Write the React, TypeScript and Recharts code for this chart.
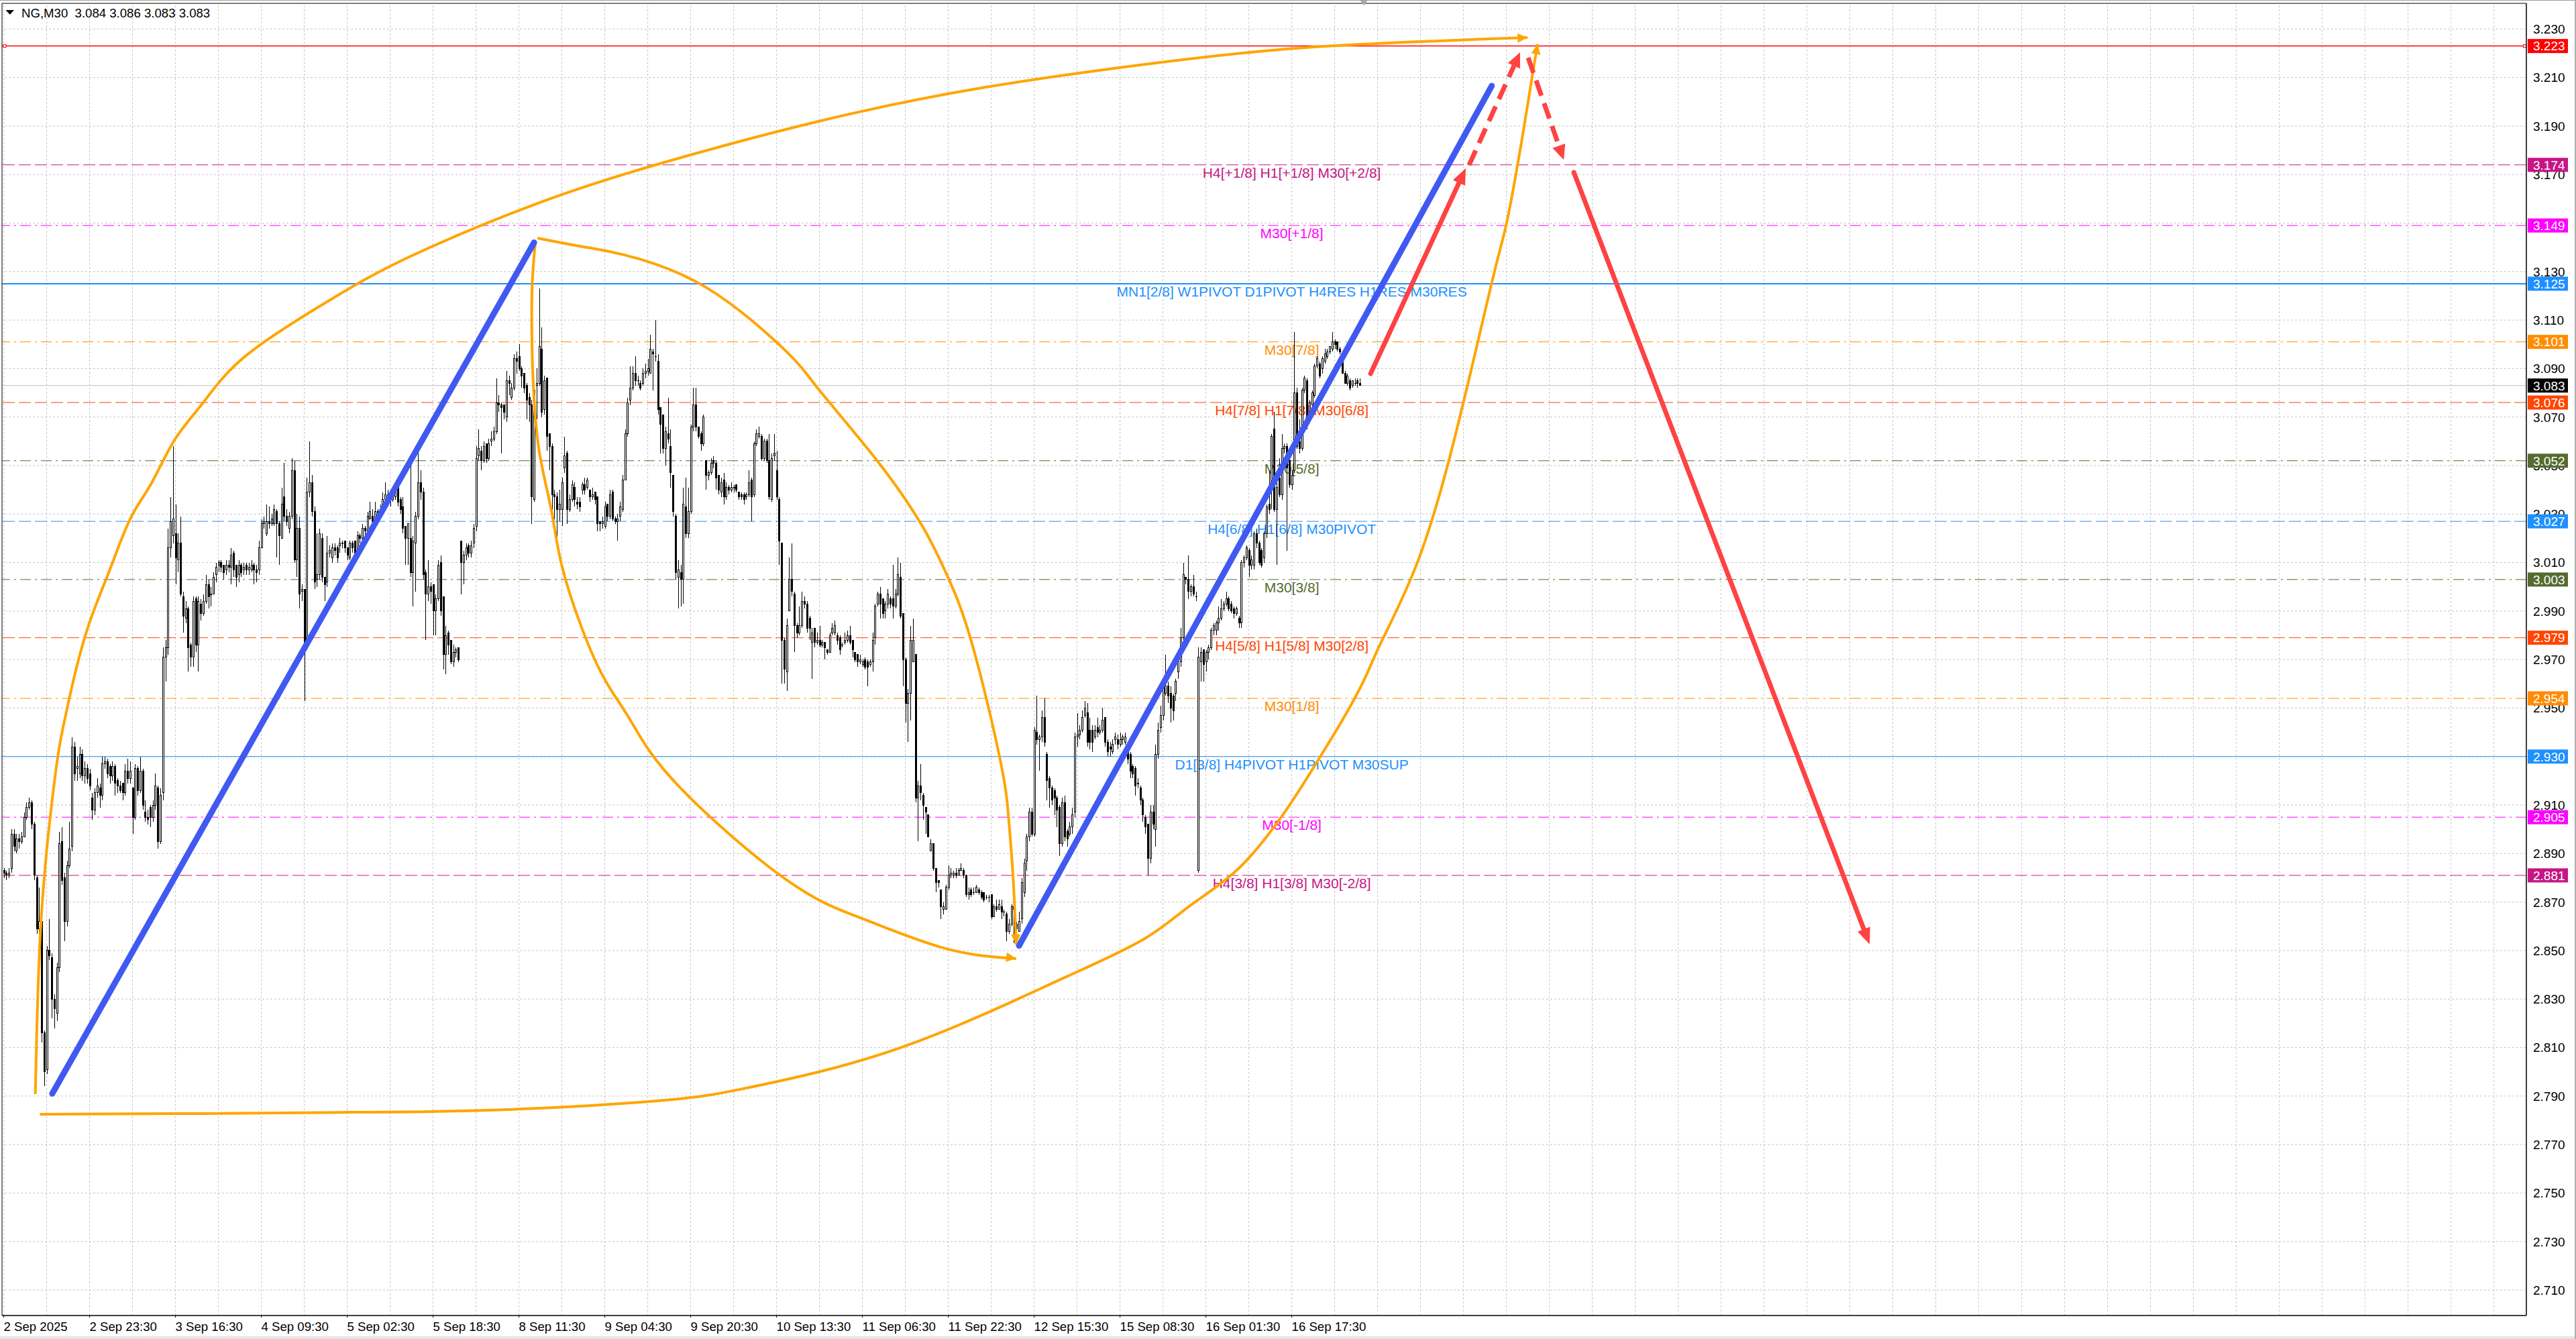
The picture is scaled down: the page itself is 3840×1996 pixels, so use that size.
import React from "react";
import {
  Bar,
  ComposedChart,
  Line,
  ReferenceArea,
  ReferenceDot,
  ReferenceLine,
  XAxis,
  YAxis,
} from "recharts";

type Ohlc = [number, number, number, number];
type Pt = [number, number];

// NG M30 bars as [open, high, low, close] in thousandths, one array per 34-bar span of the time axis
const seg00: Ohlc[] = [
  [2883, 2884, 2880, 2882], [2882, 2883, 2879, 2881], [2881, 2884, 2880, 2882], [2884, 2900, 2882, 2898], [2898, 2900, 2891, 2893],
  [2891, 2898, 2890, 2896], [2896, 2898, 2892, 2895], [2895, 2899, 2894, 2897], [2897, 2907, 2897, 2905], [2905, 2911, 2904, 2909],
  [2909, 2913, 2908, 2911], [2911, 2912, 2900, 2902], [2902, 2903, 2879, 2881], [2880, 2881, 2857, 2859], [2859, 2876, 2856, 2862],
  [2862, 2864, 2812, 2816], [2816, 2817, 2794, 2800], [2801, 2852, 2799, 2850], [2850, 2863, 2846, 2848], [2847, 2849, 2822, 2830],
  [2830, 2832, 2818, 2826], [2824, 2845, 2821, 2843], [2843, 2899, 2841, 2894], [2895, 2901, 2877, 2879], [2880, 2882, 2854, 2862],
  [2862, 2887, 2860, 2885], [2885, 2903, 2884, 2892], [2893, 2938, 2891, 2934], [2934, 2936, 2920, 2923], [2925, 2930, 2920, 2926],
  [2923, 2934, 2921, 2931], [2931, 2933, 2920, 2922], [2922, 2928, 2919, 2925], [2925, 2927, 2919, 2921],
];
const seg01: Ohlc[] = [
  [2923, 2925, 2916, 2918], [2913, 2915, 2904, 2908], [2908, 2917, 2906, 2915], [2915, 2921, 2913, 2918], [2917, 2919, 2909, 2914],
  [2914, 2930, 2912, 2927], [2927, 2930, 2925, 2928], [2928, 2929, 2921, 2923], [2926, 2927, 2919, 2922], [2922, 2928, 2920, 2926],
  [2926, 2927, 2914, 2919], [2920, 2921, 2915, 2918], [2918, 2920, 2915, 2916], [2919, 2919, 2912, 2915], [2915, 2927, 2914, 2924],
  [2924, 2929, 2919, 2921], [2921, 2928, 2919, 2924], [2917, 2917, 2898, 2905], [2905, 2927, 2904, 2925], [2925, 2926, 2914, 2916],
  [2916, 2930, 2915, 2924], [2924, 2925, 2908, 2910], [2907, 2912, 2903, 2905], [2905, 2908, 2902, 2904], [2909, 2910, 2901, 2905],
  [2905, 2912, 2903, 2910], [2910, 2923, 2908, 2918], [2917, 2918, 2892, 2895], [2895, 2917, 2894, 2914], [2915, 2975, 2912, 2971],
  [2971, 2978, 2961, 2975], [2975, 3024, 2972, 3016], [3016, 3037, 3012, 3027], [3021, 3058, 3018, 3028],
];
const seg02: Ohlc[] = [
  [3022, 3034, 3001, 3012], [3011, 3022, 3006, 3018], [3018, 3029, 2996, 2997], [2996, 2998, 2981, 2988], [2987, 2994, 2985, 2991],
  [2991, 2992, 2965, 2975], [2976, 2977, 2967, 2971], [2971, 2996, 2967, 2994], [2995, 2996, 2973, 2976], [2976, 2996, 2965, 2994],
  [2993, 2995, 2986, 2989], [2989, 2997, 2988, 2994], [2994, 3005, 2993, 3001], [3001, 3003, 2991, 2996], [2997, 3000, 2992, 2997],
  [2997, 3006, 2997, 3004], [3005, 3010, 3002, 3008], [3009, 3011, 3006, 3010], [3010, 3011, 3006, 3008], [3009, 3009, 3003, 3006],
  [3007, 3011, 3005, 3009], [3009, 3011, 3006, 3008], [3008, 3016, 3001, 3013], [3014, 3015, 3004, 3007], [3009, 3009, 3000, 3004],
  [3005, 3011, 3002, 3009], [3009, 3010, 3004, 3006], [3007, 3010, 3005, 3008], [3009, 3010, 3005, 3007], [3007, 3010, 3005, 3008],
  [3007, 3011, 3006, 3009], [3009, 3010, 3001, 3007], [3007, 3009, 3002, 3006], [3007, 3019, 3005, 3016],
];
const seg03: Ohlc[] = [
  [3016, 3028, 3016, 3026], [3026, 3029, 3024, 3027], [3022, 3034, 3021, 3027], [3027, 3033, 3024, 3026], [3026, 3030, 3025, 3028],
  [3026, 3034, 3025, 3032], [3031, 3032, 3012, 3026], [3026, 3027, 3009, 3021], [3020, 3041, 3020, 3034], [3037, 3051, 3027, 3029],
  [3029, 3032, 3025, 3027], [3024, 3031, 3022, 3029], [3029, 3053, 3028, 3048], [3048, 3052, 3010, 3011], [3011, 3030, 3004, 3024],
  [3024, 3029, 2991, 2997], [2998, 3001, 2994, 2999], [2999, 2999, 2953, 2977], [2977, 3045, 2974, 3039], [3039, 3060, 3037, 3043],
  [3043, 3046, 3029, 3031], [3031, 3033, 2999, 3002], [3003, 3022, 3000, 3005], [3005, 3024, 3003, 3022], [3020, 3022, 3002, 3004],
  [3004, 3004, 2994, 3001], [3002, 3021, 3000, 3014], [3014, 3017, 3012, 3015], [3012, 3018, 3010, 3016], [3016, 3018, 3013, 3015],
  [3016, 3017, 3010, 3012], [3017, 3020, 3014, 3018], [3018, 3019, 3016, 3018], [3019, 3019, 3014, 3016],
];
const seg04: Ohlc[] = [
  [3016, 3016, 3011, 3013], [3012, 3019, 3011, 3018], [3018, 3019, 3014, 3016], [3019, 3019, 3012, 3014], [3014, 3023, 3013, 3021],
  [3021, 3022, 3018, 3020], [3020, 3026, 3019, 3024], [3024, 3025, 3020, 3023], [3023, 3031, 3022, 3029], [3028, 3035, 3028, 3031],
  [3029, 3032, 3024, 3027], [3027, 3035, 3026, 3031], [3031, 3032, 3027, 3030], [3030, 3034, 3028, 3032], [3030, 3039, 3030, 3036],
  [3036, 3043, 3034, 3038], [3038, 3040, 3034, 3037], [3037, 3039, 3033, 3036], [3036, 3041, 3035, 3038], [3037, 3043, 3036, 3040],
  [3042, 3044, 3033, 3035], [3036, 3037, 3030, 3032], [3033, 3037, 3022, 3024], [3025, 3025, 3009, 3020], [3020, 3026, 3009, 3026],
  [3020, 3051, 3004, 3006], [3006, 3021, 2992, 3019], [3018, 3031, 2998, 3029], [3029, 3058, 3028, 3043], [3043, 3048, 3036, 3039],
  [3039, 3041, 3003, 3005], [3006, 3007, 2978, 2997], [2997, 3011, 2994, 3000], [3000, 3002, 2993, 2998],
];
const seg05: Ohlc[] = [
  [3001, 3001, 2980, 2990], [2990, 2997, 2980, 2995], [2995, 3011, 2994, 3009], [3010, 3013, 2988, 2990], [2996, 2996, 2966, 2972],
  [2972, 2984, 2964, 2980], [2981, 2982, 2972, 2976], [2978, 2978, 2968, 2969], [2969, 2976, 2967, 2973], [2973, 2975, 2971, 2974],
  [2975, 2975, 2969, 2970], [3019, 3019, 2997, 3010], [3010, 3015, 3001, 3013], [3013, 3018, 3011, 3016], [3017, 3018, 3012, 3014],
  [3014, 3019, 3012, 3017], [3018, 3026, 3016, 3024], [3025, 3058, 3023, 3053], [3054, 3065, 3052, 3057], [3056, 3058, 3048, 3052],
  [3052, 3060, 3051, 3058], [3059, 3059, 3051, 3053], [3053, 3061, 3052, 3059], [3060, 3064, 3058, 3061], [3061, 3066, 3060, 3064],
  [3064, 3086, 3063, 3076], [3076, 3079, 3072, 3075], [3075, 3076, 3055, 3074], [3075, 3075, 3069, 3072], [3070, 3089, 3068, 3085],
  [3085, 3087, 3079, 3084], [3078, 3084, 3077, 3082], [3082, 3096, 3081, 3094], [3094, 3097, 3088, 3093],
];
const seg06: Ohlc[] = [
  [3095, 3100, 3089, 3090], [3090, 3091, 3082, 3087], [3088, 3088, 3080, 3082], [3083, 3084, 3069, 3077], [3078, 3080, 3068, 3075],
  [3075, 3077, 3026, 3037], [3036, 3083, 3035, 3081], [3083, 3090, 3069, 3084], [3084, 3123, 3083, 3099], [3098, 3107, 3070, 3072],
  [3073, 3087, 3071, 3085], [3086, 3086, 3056, 3062], [3063, 3063, 3048, 3058], [3058, 3059, 3028, 3038], [3038, 3040, 3028, 3037],
  [3037, 3039, 3020, 3032], [3032, 3040, 3027, 3034], [3032, 3045, 3025, 3043], [3049, 3062, 3047, 3054], [3055, 3056, 3026, 3032],
  [3032, 3038, 3031, 3036], [3036, 3044, 3035, 3042], [3041, 3043, 3033, 3036], [3035, 3037, 3032, 3034], [3035, 3037, 3031, 3033],
  [3040, 3043, 3038, 3042], [3042, 3045, 3038, 3040], [3041, 3045, 3040, 3044], [3040, 3040, 3035, 3037], [3037, 3041, 3036, 3038],
  [3039, 3039, 3034, 3036], [3037, 3037, 3023, 3026], [3027, 3027, 3023, 3026], [3026, 3029, 3024, 3027],
];
const seg07: Ohlc[] = [
  [3025, 3035, 3024, 3033], [3034, 3034, 3027, 3029], [3029, 3040, 3028, 3038], [3039, 3040, 3027, 3028], [3028, 3029, 3026, 3027],
  [3027, 3030, 3019, 3028], [3029, 3035, 3027, 3033], [3032, 3046, 3031, 3044], [3044, 3065, 3044, 3063], [3063, 3078, 3062, 3076],
  [3077, 3091, 3075, 3082], [3082, 3091, 3081, 3088], [3088, 3095, 3083, 3085], [3085, 3087, 3083, 3085], [3084, 3085, 3081, 3082],
  [3084, 3090, 3083, 3088], [3088, 3092, 3086, 3089], [3089, 3094, 3087, 3090], [3088, 3104, 3088, 3098], [3097, 3098, 3081, 3096],
  [3095, 3110, 3093, 3095], [3093, 3096, 3071, 3073], [3074, 3074, 3055, 3067], [3071, 3071, 3055, 3057], [3057, 3066, 3050, 3064],
  [3063, 3078, 3059, 3061], [3058, 3065, 3041, 3047], [3046, 3046, 3029, 3031], [3029, 3030, 3003, 3006], [3004, 3011, 2991, 3007],
  [3006, 3009, 2992, 3003], [3003, 3041, 2993, 3034], [3033, 3045, 3020, 3022], [3022, 3041, 3020, 3031],
];
const seg08: Ohlc[] = [
  [3031, 3067, 3030, 3066], [3066, 3082, 3064, 3075], [3075, 3082, 3064, 3066], [3066, 3066, 3061, 3062], [3063, 3064, 3056, 3059],
  [3059, 3071, 3058, 3070], [3052, 3052, 3040, 3046], [3046, 3048, 3044, 3047], [3047, 3053, 3046, 3051], [3052, 3054, 3049, 3051],
  [3051, 3052, 3040, 3045], [3046, 3046, 3038, 3040], [3039, 3045, 3037, 3043], [3044, 3047, 3034, 3037], [3037, 3043, 3036, 3041],
  [3041, 3042, 3038, 3040], [3040, 3043, 3039, 3041], [3041, 3042, 3039, 3041], [3042, 3042, 3039, 3040], [3039, 3039, 3036, 3037],
  [3038, 3039, 3036, 3037], [3038, 3039, 3034, 3036], [3037, 3039, 3036, 3038], [3038, 3048, 3037, 3043], [3044, 3045, 3027, 3037],
  [3038, 3060, 3037, 3059], [3059, 3065, 3058, 3063], [3062, 3066, 3061, 3063], [3062, 3063, 3052, 3053], [3053, 3061, 3052, 3060],
  [3060, 3061, 3051, 3052], [3052, 3063, 3036, 3037], [3036, 3055, 3035, 3053], [3054, 3063, 3052, 3055],
];
const seg09: Ohlc[] = [
  [3048, 3056, 3036, 3037], [3036, 3037, 3009, 3019], [3018, 3018, 2960, 2978], [2978, 2979, 2960, 2966], [2965, 2987, 2957, 2984],
  [2990, 3012, 2990, 3003], [3003, 3018, 2996, 2998], [2997, 2998, 2973, 2984], [2984, 2985, 2979, 2981], [2981, 2992, 2980, 2984],
  [2984, 2998, 2983, 2994], [2994, 2996, 2991, 2993], [2993, 2994, 2981, 2983], [2987, 2988, 2978, 2983], [2977, 2983, 2962, 2981],
  [2983, 2983, 2975, 2977], [2977, 2981, 2976, 2978], [2978, 2984, 2975, 2976], [2976, 2978, 2975, 2977], [2977, 2977, 2970, 2975],
  [2974, 2974, 2972, 2973], [2973, 2981, 2973, 2980], [2981, 2985, 2980, 2983], [2981, 2986, 2980, 2984], [2980, 2981, 2976, 2978],
  [2979, 2980, 2972, 2974], [2976, 2977, 2975, 2976], [2977, 2981, 2976, 2978], [2978, 2982, 2977, 2980], [2980, 2984, 2976, 2977],
  [2978, 2978, 2971, 2974], [2973, 2973, 2969, 2970], [2972, 2972, 2967, 2969], [2969, 2972, 2968, 2970],
];
const seg10: Ohlc[] = [
  [2968, 2970, 2967, 2969], [2970, 2971, 2966, 2967], [2969, 2970, 2959, 2967], [2968, 2970, 2967, 2969], [2969, 2981, 2965, 2978],
  [2979, 2993, 2976, 2992], [2993, 2998, 2992, 2997], [2997, 3000, 2987, 2993], [2995, 2995, 2987, 2989], [2990, 2994, 2987, 2993],
  [2993, 2999, 2991, 2997], [2995, 2996, 2991, 2993], [2995, 3009, 2987, 2992], [2992, 2999, 2991, 2997], [2997, 3012, 2996, 3005],
  [3004, 3010, 2987, 2988], [2989, 2989, 2959, 2970], [2970, 2971, 2944, 2952], [2952, 2958, 2936, 2956], [2956, 2984, 2945, 2978],
  [2969, 2987, 2969, 2978], [2972, 2972, 2911, 2913], [2913, 2920, 2895, 2918], [2918, 2927, 2912, 2915], [2914, 2915, 2904, 2910],
  [2909, 2909, 2898, 2907], [2906, 2906, 2897, 2897], [2891, 2896, 2891, 2894], [2894, 2894, 2883, 2884], [2884, 2884, 2874, 2878],
  [2879, 2879, 2876, 2878], [2875, 2875, 2863, 2868], [2867, 2870, 2865, 2868], [2867, 2877, 2867, 2876],
];
const seg11: Ohlc[] = [
  [2876, 2885, 2875, 2881], [2881, 2884, 2880, 2882], [2881, 2883, 2880, 2882], [2882, 2884, 2880, 2881], [2881, 2884, 2881, 2883],
  [2883, 2886, 2883, 2884], [2883, 2884, 2880, 2881], [2881, 2881, 2872, 2873], [2873, 2876, 2871, 2874], [2875, 2876, 2872, 2873],
  [2874, 2876, 2873, 2874], [2874, 2877, 2874, 2876], [2875, 2876, 2873, 2874], [2874, 2875, 2871, 2872], [2874, 2874, 2870, 2871],
  [2872, 2873, 2871, 2872], [2872, 2873, 2870, 2872], [2873, 2873, 2863, 2864], [2864, 2869, 2864, 2868], [2868, 2871, 2866, 2867],
  [2867, 2871, 2867, 2869], [2868, 2871, 2863, 2866], [2866, 2867, 2864, 2866], [2865, 2866, 2854, 2858], [2858, 2863, 2857, 2861],
  [2861, 2869, 2860, 2868], [2868, 2869, 2853, 2867], [2861, 2862, 2857, 2859], [2858, 2866, 2858, 2862], [2863, 2880, 2861, 2878],
  [2874, 2888, 2872, 2886], [2887, 2898, 2883, 2897], [2897, 2909, 2895, 2907], [2907, 2909, 2897, 2898],
];
const seg12: Ohlc[] = [
  [2898, 2942, 2897, 2941], [2940, 2955, 2935, 2937], [2937, 2939, 2924, 2938], [2938, 2949, 2936, 2946], [2946, 2954, 2934, 2936],
  [2931, 2932, 2912, 2920], [2921, 2922, 2909, 2917], [2917, 2918, 2910, 2912], [2916, 2917, 2906, 2913], [2913, 2914, 2901, 2908],
  [2909, 2910, 2889, 2894], [2894, 2913, 2893, 2911], [2911, 2914, 2895, 2897], [2899, 2900, 2893, 2896], [2898, 2903, 2897, 2901],
  [2901, 2909, 2898, 2906], [2907, 2940, 2905, 2938], [2938, 2948, 2934, 2939], [2939, 2943, 2937, 2941], [2941, 2949, 2940, 2946],
  [2947, 2953, 2946, 2950], [2948, 2952, 2934, 2936], [2941, 2946, 2933, 2936], [2941, 2943, 2932, 2936], [2938, 2943, 2937, 2941],
  [2942, 2946, 2938, 2940], [2940, 2943, 2939, 2941], [2941, 2950, 2940, 2945], [2946, 2946, 2934, 2936], [2936, 2937, 2930, 2932],
  [2934, 2936, 2930, 2933], [2932, 2937, 2931, 2935], [2937, 2940, 2935, 2938], [2937, 2939, 2933, 2935],
];
const seg13: Ohlc[] = [
  [2935, 2940, 2934, 2937], [2937, 2939, 2935, 2938], [2936, 2940, 2935, 2938], [2934, 2936, 2927, 2929], [2931, 2932, 2921, 2924],
  [2926, 2927, 2921, 2923], [2925, 2926, 2914, 2918], [2919, 2921, 2917, 2919], [2917, 2918, 2910, 2912], [2912, 2913, 2903, 2906],
  [2905, 2906, 2898, 2901], [2902, 2902, 2881, 2888], [2888, 2910, 2886, 2907], [2907, 2910, 2900, 2902], [2900, 2935, 2893, 2931],
  [2931, 2944, 2929, 2941], [2942, 2951, 2940, 2947], [2947, 2960, 2945, 2959], [2956, 2972, 2955, 2959], [2959, 2961, 2952, 2955],
  [2956, 2959, 2944, 2950], [2955, 2956, 2945, 2949], [2956, 2962, 2953, 2961], [2965, 2970, 2962, 2969], [2969, 2983, 2967, 2979],
  [2979, 3010, 2977, 3005], [3004, 3004, 3001, 3003], [3003, 3013, 2995, 2998], [2998, 3001, 2996, 3000], [3000, 3005, 2996, 2997],
  [2996, 2998, 2994, 2996], [2883, 2975, 2882, 2971], [2969, 2975, 2961, 2973], [2974, 2974, 2961, 2968],
];
const seg14: Ohlc[] = [
  [2969, 2974, 2965, 2973], [2973, 2976, 2970, 2975], [2975, 2983, 2974, 2982], [2982, 2985, 2980, 2984], [2982, 2986, 2980, 2985],
  [2985, 2992, 2982, 2987], [2987, 2995, 2986, 2991], [2991, 2994, 2990, 2993], [2993, 2998, 2992, 2995], [2995, 2996, 2990, 2991],
  [2993, 2994, 2989, 2990], [2991, 2992, 2987, 2989], [2989, 2992, 2988, 2991], [2987, 2988, 2983, 2985], [2985, 3011, 2983, 3010],
  [3010, 3013, 3008, 3012], [3012, 3017, 3011, 3016], [3015, 3016, 3004, 3009], [3009, 3013, 3007, 3011], [3009, 3023, 3007, 3022],
  [3022, 3024, 3016, 3018], [3018, 3019, 3009, 3010], [3015, 3016, 3008, 3009], [3012, 3023, 3010, 3022], [3022, 3034, 3020, 3033],
  [3034, 3048, 3030, 3032], [3040, 3063, 3032, 3062], [3065, 3072, 3031, 3032], [3032, 3043, 3009, 3041], [3045, 3053, 3037, 3038],
  [3038, 3063, 3036, 3057], [3057, 3059, 3055, 3058], [3058, 3059, 3015, 3049], [3052, 3053, 3041, 3042],
];
const seg15: Ohlc[] = [
  [3042, 3048, 3040, 3046], [3048, 3105, 3047, 3080], [3080, 3082, 3057, 3058], [3060, 3069, 3055, 3057], [3057, 3082, 3056, 3081],
  [3081, 3087, 3080, 3086], [3085, 3086, 3065, 3070], [3071, 3077, 3068, 3076], [3075, 3081, 3074, 3080], [3079, 3092, 3078, 3091],
  [3091, 3095, 3090, 3094], [3092, 3093, 3086, 3087], [3090, 3095, 3088, 3094], [3093, 3098, 3092, 3096], [3095, 3098, 3094, 3097],
  [3097, 3099, 3096, 3099], [3098, 3105, 3097, 3101], [3101, 3102, 3098, 3100], [3101, 3101, 3097, 3098], [3098, 3099, 3096, 3097],
  [3094, 3095, 3088, 3088], [3088, 3089, 3084, 3084], [3084, 3088, 3083, 3087], [3085, 3086, 3081, 3082], [3083, 3085, 3082, 3085],
  [3084, 3086, 3083, 3084], [3085, 3086, 3082, 3084], [3084, 3086, 3083, 3083],
];

const TIME_LABELS = [
  "2 Sep 2025", "2 Sep 23:30", "3 Sep 16:30", "4 Sep 09:30", "5 Sep 02:30", "5 Sep 18:30", "8 Sep 11:30", "9 Sep 04:30",
  "9 Sep 20:30", "10 Sep 13:30", "11 Sep 06:30", "11 Sep 22:30", "12 Sep 15:30", "15 Sep 08:30", "16 Sep 01:30", "16 Sep 17:30",
];
const PRICE_TICKS = [
  2.71, 2.73, 2.75, 2.77, 2.79, 2.81, 2.83, 2.85, 2.87, 2.89, 2.91, 2.93, 2.95, 2.97, 2.99,
  3.01, 3.03, 3.05, 3.07, 3.09, 3.11, 3.13, 3.15, 3.17, 3.19, 3.21, 3.23,
];

// Murrey / pivot levels and their captions
const LEVEL_PRICES = [3.174, 3.149, 3.125, 3.101, 3.076, 3.052, 3.027, 3.003, 2.979, 2.954, 2.93, 2.905, 2.881];
const LEVEL_LABELS = [
  "H4[+1/8] H1[+1/8] M30[+2/8]",
  "M30[+1/8]",
  "MN1[2/8] W1PIVOT D1PIVOT H4RES H1RES M30RES",
  "M30[7/8]",
  "H4[7/8] H1[7/8] M30[6/8]",
  "M30[5/8]",
  "H4[6/8] H1[6/8] M30PIVOT",
  "M30[3/8]",
  "H4[5/8] H1[5/8] M30[2/8]",
  "M30[1/8]",
  "D1[3/8] H4PIVOT H1PIVOT M30SUP",
  "M30[-1/8]",
  "H4[3/8] H1[3/8] M30[-2/8]",
];
const LABEL_BAR = 510;
const TOP_LINE = 3.223;
const TOP_LINE_ENDS = [0.35, 998.2];
const LAST_PRICE = 3.083;

// hand drawn objects, [bar, price]
const ARC_UPPER: Pt[] = [
  [12.5, 2.7908], [13.1, 2.8179], [14.45, 2.8566], [16.2, 2.882], [17.6, 2.8976], [20.2, 2.9208], [22.4, 2.9363],
  [25.1, 2.9499], [28.5, 2.9654], [33.8, 2.9848], [40.2, 3.0023], [44.5, 3.0139], [50.8, 3.0295], [58.7, 3.0431],
  [67.6, 3.0605], [79.0, 3.076], [96.0, 3.0954], [128.7, 3.118], [161.1, 3.1363], [210.0, 3.1576], [258.8, 3.1742],
  [323.6, 3.1922], [388.7, 3.206], [453.8, 3.2157], [518.9, 3.2226], [603.4, 3.2265],
];
const ARC_LOWER: Pt[] = [
  [14.3, 2.7825], [78.2, 2.7828], [136.6, 2.7833], [193.8, 2.7842], [258.8, 2.788], [291.2, 2.7927], [323.6, 2.8002],
  [356.3, 2.8104], [388.7, 2.824], [421.4, 2.8395], [451.4, 2.8547], [469.7, 2.8685], [489.4, 2.8843], [506.4, 2.9059],
  [516.0, 2.9211], [529.8, 2.9446], [539.1, 2.9626], [545.7, 2.9778], [559.8, 3.0102], [574.7, 3.0622], [589.5, 3.1267],
  [595.4, 3.1516], [601.5, 3.1867], [607.3, 3.2238],
];
const ARC_INNER: Pt[] = [
  [210.5, 3.1424], [209.2, 3.123], [209.2, 3.0981], [210.0, 3.0771], [212.3, 3.0541], [216.9, 3.0312], [221.1, 3.0082],
  [230.1, 2.9797], [238.9, 2.9601], [248.7, 2.944], [266.8, 2.9183], [309.3, 2.8796], [340.4, 2.863], [373.1, 2.8508],
  [400.9, 2.8467],
];
const ARC_OUTER: Pt[] = [
  [211.3, 3.1438], [229.6, 3.1402], [245.6, 3.1369], [278.2, 3.1234], [310.6, 3.0963], [322.6, 3.0815], [346.5, 3.0511],
  [364.3, 3.024], [373.1, 3.0057], [382.9, 2.9783], [394.3, 2.9299], [397.8, 2.9056], [399.6, 2.8812], [400.9, 2.8525],
];
const TREND_LINES: Pt[][] = [
  [[19.2, 2.791], [210.0, 3.142]],
  [[402.0, 2.852], [589.2, 3.2066]],
];
const FORECAST_SOLID: Pt[][] = [
  [[541.2, 3.0879], [578.9, 3.1726]],
  [[621.7, 3.1709], [738.8, 2.8526]],
];
const FORECAST_DASHED: Pt[][] = [
  [[580.2, 3.1739], [600.4, 3.2204]],
  [[603.6, 3.2182], [617.7, 3.1761]],
];

const W = 3840;
const H = 1996;
const X_MIN = -0.69;
const X_MAX = 998.85;
const Y_MIN = 2.6995;
const Y_MAX = 3.2406;
const FONT = "'Liberation Sans', Arial, Helvetica, sans-serif";
const DASH = "18 6";
const DASH_DOT = "16 6 3 6";

const LEVEL_STYLES = [
  { color: "#C71585", dash: DASH, width: 1 },
  { color: "#FF00FF", dash: DASH_DOT, width: 1 },
  { color: "#1E90FF", dash: undefined, width: 2 },
  { color: "#FF8C00", dash: DASH_DOT, width: 1 },
  { color: "#FF4500", dash: DASH, width: 1 },
  { color: "#556B2F", dash: DASH_DOT, width: 1 },
  { color: "#1E90FF", dash: DASH, width: 1 },
  { color: "#556B2F", dash: DASH_DOT, width: 1 },
  { color: "#FF4500", dash: DASH, width: 1 },
  { color: "#FF8C00", dash: DASH_DOT, width: 1 },
  { color: "#1E90FF", dash: undefined, width: 1 },
  { color: "#FF00FF", dash: DASH_DOT, width: 1 },
  { color: "#C71585", dash: DASH, width: 1 },
];
const ORANGE = "#FFA500";
const BLUE = "#4059F2";
const RED = "#FF4242";

const candles = [seg00, seg01, seg02, seg03, seg04, seg05, seg06, seg07, seg08, seg09, seg10, seg11, seg12, seg13, seg14, seg15]
  .flat()
  .map(([o, h, l, c], i) => ({ i, o: o / 1000, h: h / 1000, l: l / 1000, c: c / 1000, range: [l / 1000, h / 1000] }));

const toPoints = (pts: Pt[]) => pts.map(([i, p]) => ({ i, p }));
const labelTicks = TIME_LABELS.map((_, k) => k * 34);
const gridBars: number[] = [];
for (let b = 0; b <= X_MAX; b += 17) gridBars.push(b);

function Candle(props: any) {
  const { x, y, width, height, payload } = props;
  if (x == null || y == null || !payload) return null;
  const top = Math.min(y, y + height);
  const bottom = Math.max(y, y + height);
  const span = payload.h - payload.l;
  const toY = (v: number) => (span > 0 ? top + ((payload.h - v) / span) * (bottom - top) : top);
  const cx = Math.round(x + width / 2) + 0.5;
  const yo = toY(payload.o);
  const yc = toY(payload.c);
  const bull = payload.c >= payload.o;
  return (
    <g shapeRendering="crispEdges">
      <line x1={cx} x2={cx} y1={top} y2={bottom} stroke="#000" strokeWidth={1} />
      <rect
        x={cx - 1}
        y={Math.min(yo, yc)}
        width={2}
        height={Math.max(0.5, Math.abs(yo - yc))}
        fill={bull ? "#fff" : "#000"}
        stroke="#000"
        strokeWidth={1}
      />
    </g>
  );
}

function TimeTick({ x, y, payload }: any) {
  return (
    <text x={x} y={y + 18} fontSize={18.6} fontFamily={FONT} fill="#000">
      {TIME_LABELS[Math.round(payload.value / 34)]}
    </text>
  );
}

const arrowShape =
  (color: string, width: number, headLen: number, headHalf: number, dash?: string, body = true) =>
  (props: any) => {
    const { x1, y1, x2, y2 } = props;
    const len = Math.hypot(x2 - x1, y2 - y1) || 1;
    const ux = (x2 - x1) / len;
    const uy = (y2 - y1) / len;
    const bx = x2 - ux * headLen;
    const by = y2 - uy * headLen;
    const head = `${x2},${y2} ${bx - uy * headHalf},${by + ux * headHalf} ${bx + uy * headHalf},${by - ux * headHalf}`;
    return (
      <g>
        {body && (
          <line
            x1={x1}
            y1={y1}
            x2={bx}
            y2={by}
            stroke={color}
            strokeWidth={width}
            strokeDasharray={dash}
            strokeLinecap={dash ? "butt" : "round"}
          />
        )}
        <polygon points={head} fill={color} />
      </g>
    );
  };

const lineShape = (color: string, width: number) => (props: any) => (
  <line x1={props.x1} y1={props.y1} x2={props.x2} y2={props.y2} stroke={color} strokeWidth={width} strokeLinecap="round" />
);

// price scale captions are drawn as reference marks so the coloured boxes can sit on top of them
const priceLabel = (price: number) => (props: any) => (
  <text x={props.cx + 10} y={props.cy} dy="0.36em" fontSize={19} fontFamily={FONT} fill="#000">
    {price.toFixed(3)}
  </text>
);

const priceBox = (price: number, color: string) => (props: any) => (
  <g>
    <rect x={props.cx + 2} y={props.cy - 10.5} width={60} height={21} fill={color} />
    <text x={props.cx + 10} y={props.cy} dy="0.36em" fontSize={19} fontFamily={FONT} fill="#fff">
      {price.toFixed(3)}
    </text>
  </g>
);

export default function App() {
  const boxes = [
    { price: TOP_LINE, color: "#FF0000" },
    ...LEVEL_PRICES.map((price, k) => ({ price, color: LEVEL_STYLES[k].color })),
    { price: LAST_PRICE, color: "#000000" },
  ];
  const arcs = [ARC_UPPER, ARC_LOWER, ARC_INNER, ARC_OUTER];

  return (
    <div style={{ position: "absolute", left: 0, top: 0, width: W, height: H, background: "#fff", overflow: "hidden" }}>
      <ComposedChart
        width={W}
        height={H}
        data={candles}
        margin={{ top: 5, right: 0, bottom: 0, left: 3 }}
      >
        <XAxis
          dataKey="i"
          type="number"
          domain={[X_MIN, X_MAX]}
          allowDataOverflow
          ticks={labelTicks}
          interval={0}
          height={35}
          tickSize={3}
          tick={<TimeTick />}
          axisLine={{ stroke: "#000" }}
          tickLine={{ stroke: "#000" }}
        />
        <YAxis
          orientation="right"
          type="number"
          domain={[Y_MIN, Y_MAX]}
          allowDataOverflow
          ticks={PRICE_TICKS}
          interval={0}
          width={74}
          tickSize={4}
          tick={false}
          axisLine={{ stroke: "#000" }}
          tickLine={{ stroke: "#000" }}
        />

        {PRICE_TICKS.map((p) => (
          <ReferenceLine key={`gy${p}`} y={p} stroke="#C4C4C4" strokeDasharray="3 3" zIndex={-100} />
        ))}
        {gridBars.map((b) => (
          <ReferenceLine key={`gx${b}`} x={b} stroke="#C4C4C4" strokeDasharray="3 3" zIndex={-100} />
        ))}

        {LEVEL_PRICES.map((p, k) => (
          <ReferenceLine
            key={`lv${p}`}
            y={p}
            stroke={LEVEL_STYLES[k].color}
            strokeWidth={LEVEL_STYLES[k].width}
            strokeDasharray={LEVEL_STYLES[k].dash}
            zIndex={-50}
          />
        ))}
        <ReferenceLine y={LAST_PRICE} stroke="#C0C0C0" zIndex={-50} />
        <ReferenceLine y={TOP_LINE} stroke="#FF0000" strokeWidth={1.5} zIndex={-50} />
        {TOP_LINE_ENDS.map((b) => (
          <ReferenceDot
            key={`sq${b}`}
            x={b}
            y={TOP_LINE}
            r={0}
            ifOverflow="visible"
            zIndex={-40}
            shape={(p: any) => (
              <rect x={p.cx - 2} y={p.cy - 2} width={4} height={4} fill="#fff" stroke="#FF0000" strokeWidth={1} />
            )}
          />
        ))}
        {LEVEL_PRICES.map((p, k) => (
          <ReferenceDot
            key={`tx${p}`}
            x={LABEL_BAR}
            y={p}
            r={0}
            ifOverflow="visible"
            zIndex={-40}
            shape={(d: any) => (
              <text
                x={d.cx}
                y={d.cy + 19}
                textAnchor="middle"
                fontSize={21}
                fontFamily={FONT}
                fill={LEVEL_STYLES[k].color}
              >
                {LEVEL_LABELS[k]}
              </text>
            )}
          />
        ))}

        <Bar dataKey="range" barSize={3} shape={<Candle />} isAnimationActive={false} zIndex={300} />

        {arcs.map((arc, k) => (
          <Line
            key={`arc${k}`}
            data={toPoints(arc)}
            dataKey="p"
            type="natural"
            stroke={ORANGE}
            strokeWidth={4}
            dot={false}
            activeDot={false}
            isAnimationActive={false}
            zIndex={400}
          />
        ))}
        {arcs.map((arc, k) => {
          const a = arc[arc.length - 2];
          const b = arc[arc.length - 1];
          return (
            <ReferenceLine
              key={`ah${k}`}
              segment={[{ x: a[0], y: a[1] }, { x: b[0], y: b[1] }]}
              ifOverflow="visible"
              zIndex={430}
              shape={arrowShape(ORANGE, 4, 15, 7, undefined, false)}
            />
          );
        })}

        {TREND_LINES.map((seg, k) => (
          <ReferenceLine
            key={`tr${k}`}
            segment={[{ x: seg[0][0], y: seg[0][1] }, { x: seg[1][0], y: seg[1][1] }]}
            ifOverflow="visible"
            zIndex={410}
            shape={lineShape(BLUE, 9)}
          />
        ))}
        {FORECAST_SOLID.map((seg, k) => (
          <ReferenceLine
            key={`fs${k}`}
            segment={[{ x: seg[0][0], y: seg[0][1] }, { x: seg[1][0], y: seg[1][1] }]}
            ifOverflow="visible"
            zIndex={420}
            shape={arrowShape(RED, 7, 24, 10)}
          />
        ))}
        {FORECAST_DASHED.map((seg, k) => (
          <ReferenceLine
            key={`fd${k}`}
            segment={[{ x: seg[0][0], y: seg[0][1] }, { x: seg[1][0], y: seg[1][1] }]}
            ifOverflow="visible"
            zIndex={420}
            shape={arrowShape(RED, 7, 22, 10, "24 12")}
          />
        ))}

        <ReferenceArea
          x1={X_MIN}
          x2={X_MAX}
          y1={Y_MIN}
          y2={Y_MAX}
          fill="none"
          fillOpacity={0}
          stroke="#000"
          strokeWidth={1}
          ifOverflow="visible"
          zIndex={450}
        />

        {PRICE_TICKS.map((p) => (
          <ReferenceDot
            key={`pl${p}`}
            x={X_MAX}
            y={p}
            r={0}
            ifOverflow="visible"
            zIndex={650}
            shape={priceLabel(p)}
          />
        ))}
        {boxes.map((bx) => (
          <ReferenceDot
            key={`bx${bx.price}`}
            x={X_MAX}
            y={bx.price}
            r={0}
            ifOverflow="visible"
            zIndex={700}
            shape={priceBox(bx.price, bx.color)}
          />
        ))}
      </ComposedChart>

      <svg width={420} height={34} style={{ position: "absolute", left: 0, top: 0 }}>
        <polygon points="8.5,15 21,15 14.75,21.7" fill="#000" />
        <text x={32} y={26} fontSize={18.6} fontFamily={FONT} fill="#000" style={{ whiteSpace: "pre" }}>
          {"NG,M30  3.084 3.086 3.083 3.083"}
        </text>
      </svg>
      <div
        style={{
          position: "absolute",
          left: 2027,
          top: 0,
          width: 0,
          height: 0,
          borderLeft: "6px solid transparent",
          borderRight: "6px solid transparent",
          borderTop: "8px solid #A8A8A8",
        }}
      />
      <div style={{ position: "absolute", left: 0, top: 0, width: W, height: 1, background: "#A0A0A0" }} />
      <div style={{ position: "absolute", left: 0, top: H - 4, width: W, height: 4, background: "#E4E4E4" }} />
      <div style={{ position: "absolute", left: W - 2, top: 0, width: 2, height: H, background: "#B0B0B0" }} />
    </div>
  );
}
